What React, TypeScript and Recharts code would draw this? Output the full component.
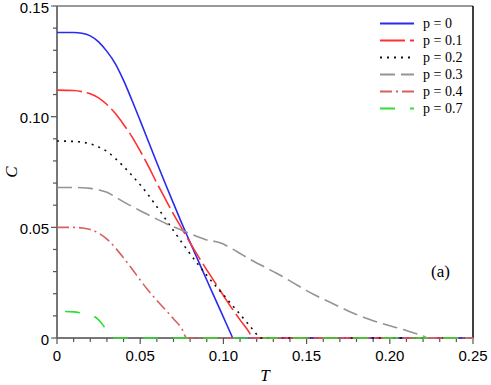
import { LineChart, Line, XAxis, YAxis, ReferenceLine } from 'recharts';

// p = 0
const tBlue = [0, 0.01, 0.015, 0.02, 0.025, 0.03, 0.035, 0.04, 0.045, 0.05, 0.055, 0.06, 0.065, 0.07, 0.075, 0.08, 0.085, 0.09, 0.095, 0.1, 0.105, 0.1056, 0.25];
const cBlue = [0.138, 0.138, 0.1377, 0.1365, 0.1338, 0.1295, 0.124, 0.1164, 0.1075, 0.0982, 0.0887, 0.0792, 0.0699, 0.0608, 0.0518, 0.0432, 0.0347, 0.0262, 0.0178, 0.0094, 0.001, 0, 0];

// p = 0.1
const tRed = [0, 0.01, 0.015, 0.02, 0.025, 0.03, 0.035, 0.04, 0.045, 0.05, 0.055, 0.06, 0.065, 0.07, 0.075, 0.08, 0.085, 0.09, 0.095, 0.1, 0.105, 0.11, 0.115, 0.118, 0.25];
const cRed = [0.112, 0.1118, 0.1113, 0.1103, 0.1085, 0.1055, 0.1015, 0.0965, 0.091, 0.0845, 0.0775, 0.07, 0.063, 0.056, 0.0495, 0.043, 0.0368, 0.0308, 0.025, 0.0192, 0.0135, 0.0082, 0.0032, 0, 0];

// p = 0.2
const tBlack = [0, 0.01, 0.015, 0.02, 0.025, 0.03, 0.035, 0.04, 0.045, 0.05, 0.055, 0.06, 0.065, 0.07, 0.075, 0.08, 0.085, 0.09, 0.095, 0.1, 0.105, 0.11, 0.115, 0.12, 0.1215, 0.25];
const cBlack = [0.089, 0.0888, 0.0885, 0.0877, 0.0863, 0.0843, 0.0812, 0.0775, 0.0735, 0.0692, 0.0645, 0.0593, 0.054, 0.0485, 0.0432, 0.038, 0.033, 0.0283, 0.0238, 0.0195, 0.0151, 0.0107, 0.0062, 0.0016, 0, 0];

// p = 0.3
const tGray = [0, 0.01, 0.015, 0.02, 0.025, 0.03, 0.035, 0.04, 0.045, 0.05, 0.055, 0.06, 0.065, 0.07, 0.075, 0.08, 0.085, 0.09, 0.095, 0.098, 0.105, 0.11, 0.115, 0.12, 0.125, 0.13, 0.135, 0.14, 0.145, 0.15, 0.155, 0.16, 0.165, 0.17, 0.175, 0.18, 0.185, 0.19, 0.195, 0.2, 0.205, 0.21, 0.215, 0.22, 0.223, 0.25];
const cGray = [0.068, 0.068, 0.0679, 0.0676, 0.0669, 0.0658, 0.0638, 0.0615, 0.0595, 0.0575, 0.0556, 0.0537, 0.0519, 0.0502, 0.0487, 0.0472, 0.0456, 0.0443, 0.0436, 0.043, 0.0404, 0.0382, 0.036, 0.0339, 0.032, 0.03, 0.028, 0.0258, 0.0236, 0.0214, 0.0194, 0.0176, 0.0158, 0.014, 0.0122, 0.0106, 0.0091, 0.0078, 0.0066, 0.0055, 0.0045, 0.0034, 0.0021, 0.0009, 0, 0];

// p = 0.4
const tDashDot = [0, 0.01, 0.015, 0.02, 0.025, 0.03, 0.035, 0.04, 0.045, 0.05, 0.055, 0.06, 0.065, 0.07, 0.075, 0.078, 0.25];
const cDashDot = [0.05, 0.05, 0.0497, 0.049, 0.0474, 0.0447, 0.0408, 0.0362, 0.0313, 0.0262, 0.0213, 0.017, 0.0129, 0.0087, 0.0042, 0, 0];

// p = 0.7
const tGreen = [0, 0.005, 0.01, 0.015, 0.02, 0.025, 0.028, 0.03, 0.032, 0.25];
const cGreen = [0.012, 0.012, 0.0118, 0.0113, 0.0106, 0.0082, 0.0055, 0.003, 0, 0];

const xTicks = [0, 0.01, 0.02, 0.03, 0.04, 0.05, 0.06, 0.07, 0.08, 0.09, 0.1, 0.11, 0.12, 0.13, 0.14, 0.15, 0.16, 0.17, 0.18, 0.19, 0.2, 0.21, 0.22, 0.23, 0.24, 0.25];
const yTicks = [0, 0.01, 0.02, 0.03, 0.04, 0.05, 0.06, 0.07, 0.08, 0.09, 0.1, 0.11, 0.12, 0.13, 0.14, 0.15];
const xMajor = [0, 0.05, 0.1, 0.15, 0.2, 0.25];
const xMajorLabels = ['0', '0.05', '0.10', '0.15', '0.20', '0.25'];
const yMajor = [0, 0.05, 0.1, 0.15];
const yMajorLabels = ['0', '0.05', '0.10', '0.15'];

const series = [
  { name: 'p = 0', t: tBlue, c: cBlue, color: '#2a2af2', dash: undefined, offset: 0 },
  { name: 'p = 0.1', t: tRed, c: cRed, color: '#ff3030', dash: '25 5', offset: 0 },
  { name: 'p = 0.2', t: tBlack, c: cBlack, color: '#111111', dash: '2 5', offset: 0 },
  { name: 'p = 0.3', t: tGray, c: cGray, color: '#949494', dash: '15 6', offset: 0 },
  { name: 'p = 0.4', t: tDashDot, c: cDashDot, color: '#d95f5f', dash: '12 4 2 4', offset: 0 },
  { name: 'p = 0.7', t: tGreen, c: cGreen, color: '#30e030', dash: '15 15', offset: 22 },
];

const toPoints = (t: number[], c: number[]) => t.map((T, i) => ({ T, C: c[i] }));

const AXIS = '#777777';
const TICK = 4;
const SANS = '"Liberation Sans", Arial, sans-serif';
const SERIF = '"Liberation Serif", "Times New Roman", serif';

function labelFor(v: number, majors: number[], labels: string[]) {
  const i = majors.findIndex((m) => Math.abs(m - v) < 1e-9);
  return i >= 0 ? labels[i] : null;
}

// x, y here sit at the outer end of the tick line
function XTick(props: any) {
  const { x, y, payload } = props;
  const label = labelFor(payload.value, xMajor, xMajorLabels);
  if (!label) return <g />;
  return (
    <g>
      <line x1={x} x2={x} y1={y} y2={y + 2} stroke="#555" strokeWidth={1.2} />
      <text x={x} y={y + 13} textAnchor="middle" dominantBaseline="central" fontFamily={SANS} fontSize={15} fill="#000">
        {label}
      </text>
    </g>
  );
}

function YTick(props: any) {
  const { x, y, payload } = props;
  const label = labelFor(payload.value, yMajor, yMajorLabels);
  if (!label) return <g />;
  return (
    <g>
      <line x1={x} x2={x - 2} y1={y} y2={y} stroke="#555" strokeWidth={1.2} />
      <text x={x - 4} y={y + 1} textAnchor="end" dominantBaseline="central" fontFamily={SANS} fontSize={15} fill="#000">
        {label}
      </text>
    </g>
  );
}

function YLabel(props: any) {
  const vb = props.viewBox;
  const cy = vb.y + vb.height / 2;
  return (
    <text x={11} y={cy} transform={`rotate(-90, 11, ${cy})`} textAnchor="middle" dominantBaseline="central" fontFamily={SERIF} fontStyle="italic" fontSize={17} fill="#000">
      C
    </text>
  );
}

export default function App() {
  return (
    <div style={{ position: 'absolute', left: 0, top: 0, width: 491, height: 385, background: '#fff' }}>
      <LineChart width={491} height={385} margin={{ top: 6, right: 18, bottom: 0, left: 0 }}>
        <ReferenceLine y={0.15} stroke={AXIS} strokeWidth={1.5} />
        <ReferenceLine x={0.25} stroke="#000" strokeWidth={1.5} />
        <XAxis
          dataKey="T"
          type="number"
          domain={[0, 0.25]}
          ticks={xTicks}
          interval={0}
          height={47}
          tickSize={TICK}
          tickMargin={0}
          tickLine={{ stroke: '#555', strokeWidth: 1.2 }}
          tick={XTick}
          axisLine={{ stroke: AXIS, strokeWidth: 2 }}
          label={{ value: 'T', position: 'insideBottom', offset: 4, style: { fontFamily: SERIF, fontStyle: 'italic', fontSize: 17, fill: '#000' } }}
        />
        <YAxis
          dataKey="C"
          type="number"
          domain={[0, 0.15]}
          ticks={yTicks}
          interval={0}
          width={57}
          tickSize={TICK}
          tickMargin={0}
          tickLine={{ stroke: '#555', strokeWidth: 1.2 }}
          tick={YTick}
          axisLine={{ stroke: AXIS, strokeWidth: 2 }}
          label={{ content: YLabel }}
        />
        {series.map((s) => (
          <Line
            key={s.name}
            data={toPoints(s.t, s.c)}
            dataKey="C"
            type="monotone"
            stroke={s.color}
            strokeWidth={1.6}
            strokeDasharray={s.dash}
            strokeDashoffset={s.offset}
            dot={false}
            activeDot={false}
            isAnimationActive={false}
            zIndex={600}
          />
        ))}
      </LineChart>

      <div style={{ position: 'absolute', left: 380, top: 15 }}>
        {series.map((s) => (
          <div key={s.name} style={{ display: 'flex', alignItems: 'center', height: 17 }}>
            <svg width={34} height={17}>
              <line x1={0} x2={34} y1={8.5} y2={8.5} stroke={s.color} strokeWidth={1.8} strokeDasharray={s.dash} />
            </svg>
            <span style={{ marginLeft: 9, fontFamily: SERIF, fontSize: 14, color: '#000', lineHeight: '17px' }}>{s.name}</span>
          </div>
        ))}
      </div>

      <div style={{ position: 'absolute', left: 431, top: 262, fontFamily: SERIF, fontSize: 17, color: '#000' }}>(a)</div>
    </div>
  );
}
